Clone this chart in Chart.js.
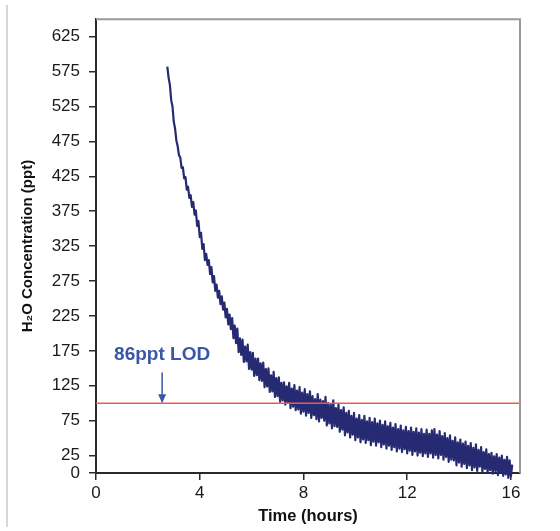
<!DOCTYPE html>
<html>
<head>
<meta charset="utf-8">
<script src="https://cdn.jsdelivr.net/npm/chart.js@4.4.1/dist/chart.umd.min.js"></script>
<style>
  html, body { margin: 0; padding: 0; background: #fff; }
  #wrap { width: 560px; height: 531px; }
</style>
</head>
<body>
<div id="wrap"><canvas id="chart" width="560" height="531"></canvas></div>
<script>
// trace sampling: first reading (hours) and spacing between readings
const timeStart = 2.75;
const timeStep = 0.05;

// H2O concentration readings (ppt), 10 per row (= 0.5 h)
const h2oValues = [
    582, 566, 556, 534, 525, 503, 493, 476, 468, 455,
    452, 437, 438, 422, 424, 406, 410, 394, 398, 381,
    388, 370, 376, 354, 361, 338, 344, 321, 328, 305,
    314, 298, 305, 285, 295, 273, 282, 261, 270, 251,
    261, 242, 253, 234, 244, 223, 235, 213, 227, 206,
    222, 193, 211, 186, 207, 173, 193, 169, 191, 159,
    181, 160, 184, 149, 173, 148, 172, 139, 164, 140,
    164, 133, 157, 132, 158, 123, 149, 124, 150, 116,
    140, 117, 145, 109, 136, 110, 137, 102, 129, 104,
    130, 98, 124, 101, 129, 93, 121, 95, 126, 90,
    118, 91, 123, 85, 115, 88, 120, 82, 113, 86,
    117, 79, 110, 83, 106, 77, 113, 74, 105, 79,
    103, 75, 109, 68, 100, 71, 98, 64, 104, 67,
    93, 66, 98, 59, 90, 62, 94, 54, 86, 58,
    89, 51, 82, 55, 86, 47, 78, 51, 83, 44,
    76, 48, 82, 43, 74, 47, 79, 40, 73, 45,
    78, 39, 71, 44, 75, 37, 69, 41, 74, 35,
    67, 39, 72, 33, 65, 37, 70, 31, 63, 35,
    68, 30, 61, 34, 66, 28, 60, 32, 65, 26,
    59, 31, 64, 25, 58, 29, 63, 24, 56, 28,
    62, 23, 56, 28, 61, 22, 63, 26, 55, 21,
    60, 26, 53, 19, 57, 23, 50, 16, 54, 19,
    46, 18, 51, 11, 44, 15, 48, 9, 42, 13,
    45, 7, 39, 11, 43, 4, 36, 8, 41, 3,
    33, 9, 37, 2, 30, 6, 34, 0, 27, 4,
    29, -1, 24, 3, 27, -3, 22, 1, 25, -4,
    19, -2, 23, -7, 18, -5, 12
];

// limit of detection line and its label
const lodValue = 100;
const lodLabel = '86ppt LOD';
const lodLabelAt = { x: 2.55, y: 170 };
const lodArrowFrom = 144;

// axes
const xMin = 0, xMax = 16.35;
const yMin = 0, yMax = 650;
const xTickValues = [0, 4, 8, 12, 16];
const yTickValues = [0, 25, 75, 125, 175, 225, 275, 325, 375, 425, 475, 525, 575, 625];

const fontFamily = "'Liberation Sans', Arial, sans-serif";
const axisColor = '#2a2a2a';

const tracePoints = h2oValues.map((v, i) => ({ x: +(timeStart + i * timeStep).toFixed(2), y: v }));

// frame lines round the plot + LOD label with arrow
const framePlugin = {
    id: 'framePlugin',
    beforeDraw(chart) {
        const ctx = chart.ctx;
        ctx.save();
        ctx.fillStyle = '#fff';
        ctx.fillRect(0, 0, chart.width, chart.height);
        ctx.strokeStyle = '#c8c8c8';
        ctx.lineWidth = 1.5;
        ctx.beginPath();
        ctx.moveTo(7, 5);
        ctx.lineTo(7, 527);
        ctx.stroke();
        ctx.restore();
    },
    afterDraw(chart) {
        const ctx = chart.ctx;
        const a = chart.chartArea;
        const xs = chart.scales.x, ys = chart.scales.y;
        ctx.save();
        ctx.strokeStyle = '#9a9a9a';
        ctx.lineWidth = 2;
        ctx.beginPath();
        ctx.moveTo(a.left, a.top);
        ctx.lineTo(a.right, a.top);
        ctx.lineTo(a.right, a.bottom);
        ctx.stroke();

        // label
        const lx = xs.getPixelForValue(lodLabelAt.x);
        const ly = ys.getPixelForValue(lodLabelAt.y);
        ctx.fillStyle = '#3a56a5';
        ctx.font = "bold 19px " + fontFamily;
        ctx.textAlign = 'center';
        ctx.textBaseline = 'middle';
        ctx.fillText(lodLabel, lx, ly);

        // arrow
        const y0 = ys.getPixelForValue(lodArrowFrom);
        const y1 = ys.getPixelForValue(lodValue);
        ctx.strokeStyle = '#3a56a5';
        ctx.lineWidth = 1.5;
        ctx.beginPath();
        ctx.moveTo(lx, y0);
        ctx.lineTo(lx, y1 - 7);
        ctx.stroke();
        ctx.beginPath();
        ctx.moveTo(lx - 4, y1 - 9);
        ctx.lineTo(lx + 4, y1 - 9);
        ctx.lineTo(lx, y1);
        ctx.closePath();
        ctx.fill();
        ctx.restore();
    }
};

new Chart(document.getElementById('chart').getContext('2d'), {
    type: 'line',
    data: {
        datasets: [
            {
                label: 'LOD',
                data: [{ x: xMin, y: lodValue }, { x: xMax, y: lodValue }],
                borderColor: '#f0584c',
                borderWidth: 1.5,
                pointRadius: 0
            },
            {
                label: 'H2O',
                data: tracePoints,
                borderColor: '#262a72',
                borderWidth: 2.2,
                borderJoinStyle: 'round',
                pointRadius: 0,
                tension: 0,
                clip: { left: 5, top: 5, right: 5, bottom: 6 }
            }
        ]
    },
    options: {
        responsive: false,
        animation: false,
        layout: { padding: { left: 0, right: 40, top: 19, bottom: 0 } },
        plugins: { legend: { display: false }, tooltip: { enabled: false } },
        scales: {
            x: {
                type: 'linear',
                min: xMin,
                max: xMax,
                afterBuildTicks: s => { s.ticks = xTickValues.map(v => ({ value: v })); },
                afterFit: s => { s.height = 58; },
                ticks: { color: '#1a1a1a', font: { family: fontFamily, size: 17 }, padding: 3, maxRotation: 0, autoSkip: false },
                grid: { display: true, drawOnChartArea: false, drawTicks: true, tickLength: 7, color: axisColor, lineWidth: 1.5 },
                border: { display: true, color: axisColor, width: 2 },
                title: { display: true, text: 'Time (hours)', color: '#111', font: { family: fontFamily, size: 16.5, weight: 'bold' }, padding: { top: 0, bottom: 5 } }
            },
            y: {
                type: 'linear',
                min: yMin,
                max: yMax,
                afterBuildTicks: s => { s.ticks = yTickValues.map(v => ({ value: v })); },
                afterFit: s => { s.width = 96; },
                ticks: { color: '#1a1a1a', font: { family: fontFamily, size: 17 }, padding: 9, autoSkip: false },
                grid: { display: true, drawOnChartArea: false, drawTicks: true, tickLength: 7, color: axisColor, lineWidth: 1.5 },
                border: { display: true, color: axisColor, width: 2 },
                title: { display: true, text: 'H₂O Concentration (ppt)', color: '#111', font: { family: fontFamily, size: 15, weight: 'bold' }, padding: { top: 19, bottom: 0 } }
            }
        }
    },
    plugins: [framePlugin]
});
</script>
</body>
</html>
